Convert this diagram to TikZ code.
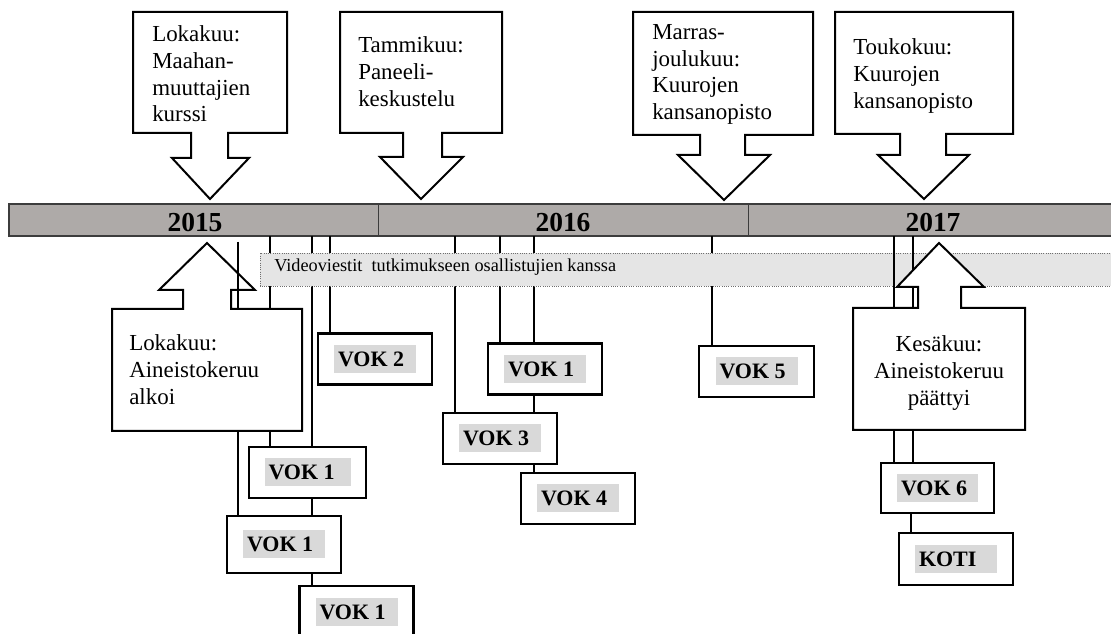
\documentclass[tikz,border=0pt]{standalone}
\usepackage{fontspec}
\setmainfont{Liberation Serif}
\definecolor{bargray}{RGB}{174,170,168}
\definecolor{bardark}{RGB}{60,60,60}
\definecolor{vidgray}{RGB}{229,229,229}
\definecolor{vidline}{RGB}{110,110,110}
\definecolor{hlgray}{RGB}{217,217,217}
\newcommand{\vokhl}[2][61.5pt]{{\setlength{\fboxsep}{0pt}\colorbox{hlgray}{\makebox[#1][l]{\hspace{3pt}\rule[-5pt]{0pt}{21pt}#2}}}}
\newcommand{\ctext}[1]{\parbox[t]{4cm}{\fontsize{17.2}{19.9}\selectfont\raggedright #1}}
\newcommand{\ctextc}[1]{\parbox[t]{4cm}{\fontsize{17.2}{19.9}\selectfont\centering #1}}
\begin{document}
\begin{tikzpicture}[x=0.75pt,y=-0.75pt,
  link/.style={line width=1.6pt},
  callout/.style={draw=black, line width=1.5pt, fill=white, line join=miter},
  vokbox/.style={draw, line width=1.6pt, fill=white, minimum width=85.5pt, minimum height=38.25pt, inner sep=0pt, font=\fontsize{16.5}{18}\selectfont\bfseries},
  ctxt/.style={inner sep=0pt, anchor=base west},
  ctxtc/.style={inner sep=0pt, anchor=base},
  year/.style={font=\fontsize{20.6}{24}\selectfont\bfseries, inner sep=0pt, anchor=base}
]
\useasboundingbox (0,0) rectangle (1111,634);
\fill[white] (0,0) rectangle (1111,634);

% timeline bar
\draw[fill=bargray, draw=bardark, line width=0.8pt] (9,204) rectangle (1116,236);
\draw[bardark, line width=0.8pt] (378.5,204) -- (378.5,236);
\draw[bardark, line width=0.8pt] (748.3,204) -- (748.3,236);
\node[year] (y15) at (195,231.5) {2015};
\node[year] (y16) at (563,231.5) {2016};
\node[year] (y17) at (933,231.5) {2017};

% VOK boxes
\node[vokbox] (v2) at (375,359) {\vokhl{VOK 2}};
\node[vokbox, minimum width=87.75pt] (v1a) at (307.5,472.5) {\vokhl[64.5pt]{VOK 1}};
\node[vokbox, minimum height=42.75pt] (v1b) at (284,544.5) {\vokhl{VOK 1}};
\node[vokbox, minimum height=39pt] (v1c) at (356.5,612) {\vokhl{VOK 1}};
\node[vokbox] (v1d) at (545,369) {\vokhl{VOK 1}};
\node[vokbox] (v3) at (500,438.5) {\vokhl{VOK 3}};
\node[vokbox] (v4) at (578,498.5) {\vokhl{VOK 4}};
\node[vokbox, minimum width=86.25pt] (v5) at (756.5,371.5) {\vokhl{VOK 5}};
\node[vokbox, minimum width=84.75pt, minimum height=37.5pt] (v6) at (937.5,488) {\vokhl[60.75pt]{VOK 6}};
\node[vokbox, minimum height=39pt] (koti) at (956,559) {\vokhl{KOTI}};

% connector start points
\coordinate (t1) at (238,242);
\coordinate (t2) at (270,236);
\coordinate (t3) at (312,236);
\coordinate (t4) at (330,236);
\coordinate (t5) at (455,236);
\coordinate (t6) at (500,236);
\coordinate (t7) at (534,236);
\coordinate (t8) at (712,236);
\coordinate (t9) at (894,236);
\coordinate (t10) at (913,236);
\coordinate (x11) at (911,500);

% connectors hidden by the video band
\draw[link] (t2) -- (t2 |- v1a.north);
\draw[link] (t3) -- (t3 |- v1a.north);
\draw[link] (v1a.south -| t3) -- (v1b.north -| t3);
\draw[link] (v1b.south -| t3) -- (v1c.north -| t3);
\draw[link] (t4) -- (t4 |- v2.north);
\draw[link] (t5) -- (t5 |- v3.north);
\draw[link] (t6) -- (t6 |- v1d.north);
\draw[link] (t7) -- (t7 |- v1d.north);
\draw[link] (v1d.south -| t7) -- (v3.north -| t7);
\draw[link] (v3.south -| t7) -- (v4.north -| t7);
\draw[link] (t8) -- (t8 |- v5.north);

% video band
\draw[vidline, densely dotted, fill=vidgray, line width=0.7pt] (260,253.5) rectangle (1116,286);
\node[anchor=base west, inner sep=0pt, font=\fontsize{13.7}{16}\selectfont] (vid) at (274,272) {Videoviestit\ \ tutkimukseen osallistujien kanssa};

% connectors over the band
\draw[link] (t9) -- (t9 |- v6.north);
\draw[link] (t10) -- (t10 |- v6.north);
\draw[link] (t1) -- (t1 |- v1b.north);
\draw[link] (v6.south -| x11) -- (koti.north -| x11);

% top callouts
\draw[callout] (133,12) -- (287,12) -- (287,133) -- (228,133) -- (228,158) -- (249,158) -- (210,199) -- (172,158) -- (191,158) -- (191,133) -- (133,133) -- cycle;
\node[ctxt] (c1) at (152,42) {\ctext{Lokakuu:\\Maahan-\\muuttajien\\kurssi}};
\draw[callout] (340,12) -- (502,12) -- (502,133) -- (442,133) -- (442,157) -- (463,157) -- (421,199) -- (380,157) -- (403,157) -- (403,133) -- (340,133) -- cycle;
\node[ctxt] (c2) at (358,53) {\ctext{Tammikuu:\\Paneeli-\\keskustelu}};
\draw[callout] (633,12) -- (813,12) -- (813,135) -- (745,135) -- (745,155) -- (770,155) -- (724,200) -- (678,155) -- (700,155) -- (700,135) -- (633,135) -- cycle;
\node[ctxt] (c3) at (652,39.5) {\ctext{Marras-\\joulukuu:\\Kuurojen\\kansanopisto}};
\draw[callout] (835,12) -- (1013,12) -- (1013,134) -- (946,134) -- (946,155) -- (969,155) -- (924,199) -- (878,155) -- (900,155) -- (900,134) -- (835,134) -- cycle;
\node[ctxt] (c4) at (853,55) {\ctext{Toukokuu:\\Kuurojen\\kansanopisto}};

% bottom callouts
\draw[callout] (112,309) -- (183,309) -- (183,290) -- (159,290) -- (207,243) -- (255,290) -- (231,290) -- (231,309) -- (302,309) -- (302,431) -- (112,431) -- cycle;
\coordinate (alkoitop) at (207,309);
\draw[link] (t1) -- (t1 |- alkoitop);
\node[ctxt] (alkoi) at (129,351) {\ctext{Lokakuu:\\Aineistokeruu\\alkoi}};

\draw[callout] (853,308) -- (918,308) -- (918,287) -- (897,287) -- (939,243) -- (984,287) -- (961,287) -- (961,308) -- (1025,308) -- (1025,430) -- (853,430) -- cycle;
\node[ctxtc] (paattyi) at (939,352) {\ctextc{Kesäkuu:\\Aineistokeruu\\päättyi}};
\end{tikzpicture}
\end{document}
